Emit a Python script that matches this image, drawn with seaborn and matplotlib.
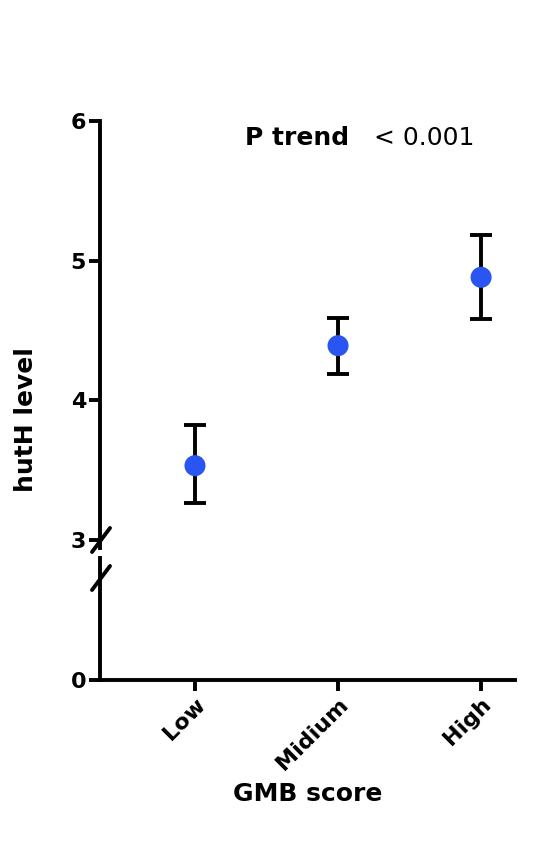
import matplotlib
matplotlib.use("Agg")
import matplotlib.pyplot as plt
import seaborn as sns
import pandas as pd

categories = ["Low", "Midium", "High"]
means = [3.53, 4.39, 4.88]
lower = [3.26, 4.19, 4.58]
upper = [3.82, 4.59, 5.18]
yticks_top = [3, 4, 5, 6]

sns.set_style("ticks")
plt.rcParams['font.family'] = ['DejaVu Sans']
plt.rcParams['text.color'] = 'black'
plt.rcParams['axes.labelcolor'] = 'black'
plt.rcParams['xtick.color'] = 'black'
plt.rcParams['ytick.color'] = 'black'
plt.rcParams['axes.edgecolor'] = 'black'
df = pd.DataFrame({"cat": categories, "mean": means, "x": range(3)})

fig = plt.figure(figsize=(5.52, 8.41), dpi=100)
W, H = 552, 841
def ax_at(l, t, r, b):
    return fig.add_axes([l / W, 1 - b / H, (r - l) / W, (b - t) / H])

ax = ax_at(100, 121, 515, 548)
ax2 = ax_at(100, 558, 515, 680)
xl = (-0.664, 2.237)
lw = 2.8

for i, (m, lo, hi) in enumerate(zip(means, lower, upper)):
    ax.errorbar(i, m, yerr=[[m - lo], [hi - m]], fmt='none', ecolor='black',
                elinewidth=lw, capsize=8, capthick=lw, zorder=2)
sns.scatterplot(data=df, x="x", y="mean", ax=ax, color="#2b55f2", s=230,
                edgecolor="none", zorder=3, legend=False)

ax.set_ylim(2.94, 6)
ax.set_xlim(*xl)
ax.set_yticks(yticks_top)
ax.set_xticks([])
ax.set_xlabel("")
ax.set_ylabel("hutH level", fontsize=18, fontweight='bold')
ax.yaxis.set_label_coords(-0.15, 0.3)
for s in ["top", "right", "bottom"]:
    ax.spines[s].set_visible(False)
ax.spines["left"].set_linewidth(lw)
ax.tick_params(axis='y', width=lw, length=8, labelsize=16, pad=2)
for t in ax.get_yticklabels():
    t.set_fontweight('bold')
ax.text(0.35, 0.96, "P trend", transform=ax.transAxes, fontsize=18, fontweight='bold', va='center')
ax.text(0.66, 0.96, "< 0.001", transform=ax.transAxes, fontsize=18, va='center')

ax2.set_ylim(0, 1)
ax2.set_xlim(*xl)
ax2.set_yticks([0])
ax2.set_xticks(range(3))
ax2.set_xticklabels(categories, rotation=45, ha='right', rotation_mode='anchor',
                    fontsize=17, fontweight='bold')
for t in ax2.get_yticklabels():
    t.set_fontweight('bold')
for s in ["top", "right"]:
    ax2.spines[s].set_visible(False)
ax2.spines["left"].set_linewidth(lw)
ax2.spines["bottom"].set_linewidth(lw)
ax2.tick_params(width=lw, length=8, labelsize=16, pad=2)
ax2.set_xlabel("GMB score", fontsize=18, fontweight='bold', labelpad=6)

for yb in (540, 578):
    fig.add_artist(plt.Line2D([92 / W, 110 / W], [1 - (yb + 12) / H, 1 - (yb - 12) / H],
                              color='black', lw=lw))

fig.savefig("out.png", dpi=100)
